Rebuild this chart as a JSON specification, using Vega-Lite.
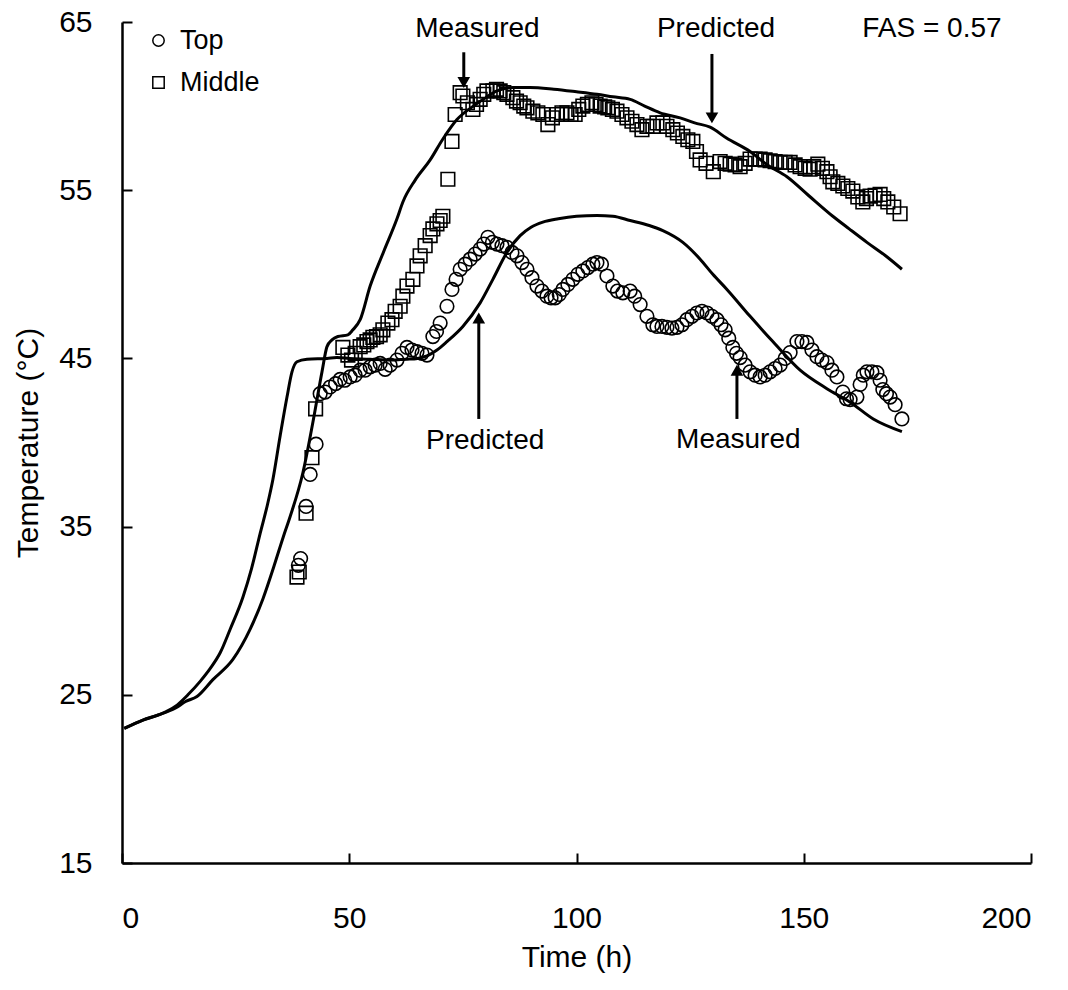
{
  "$schema": "https://vega.github.io/schema/vega-lite/v6.json",
  "width": 909,
  "height": 841,
  "autosize": {"type": "none"},
  "padding": {"left": 122, "top": 22, "right": 37, "bottom": 127},
  "background": "white",
  "config": {
    "font": "Liberation Sans",
    "view": {"stroke": null},
    "axis": {
      "grid": false,
      "domainColor": "black",
      "domainWidth": 2.5,
      "tickColor": "black",
      "tickWidth": 2,
      "tickSize": -10,
      "labelColor": "black",
      "titleColor": "black",
      "labelFont": "Liberation Sans",
      "titleFont": "Liberation Sans",
      "labelFontSize": 30,
      "titleFontSize": 30,
      "titleFontWeight": "normal"
    }
  },
  "datasets": {
    "pred": [
      {"t":0.5,"T":23.0,"c":"top"},{"t":4.6,"T":23.5,"c":"top"},{"t":8,"T":23.8,"c":"top"},{"t":11.7,"T":24.3,"c":"top"},{"t":14.5,"T":25.0,"c":"top"},{"t":17.2,"T":25.8,"c":"top"},{"t":19.5,"T":26.6,"c":"top"},{"t":21.6,"T":27.5,"c":"top"},{"t":23.8,"T":28.9,"c":"top"},{"t":26.6,"T":30.8,"c":"top"},{"t":28.5,"T":32.5,"c":"top"},{"t":30.4,"T":34.6,"c":"top"},{"t":32,"T":36.3,"c":"top"},{"t":33.2,"T":37.8,"c":"top"},{"t":34.8,"T":40.4,"c":"top"},{"t":36.3,"T":42.7,"c":"top"},{"t":37.4,"T":44.2,"c":"top"},{"t":38.5,"T":44.8,"c":"top"},{"t":40.7,"T":44.95,"c":"top"},{"t":45.1,"T":45.0,"c":"top"},{"t":47.3,"T":45.05,"c":"top"},{"t":50,"T":45.0,"c":"top"},{"t":54.6,"T":44.95,"c":"top"},{"t":58,"T":44.9,"c":"top"},{"t":62.7,"T":44.95,"c":"top"},{"t":65,"T":45.0,"c":"top"},{"t":67.1,"T":45.15,"c":"top"},{"t":69.3,"T":45.5,"c":"top"},{"t":71.5,"T":46.0,"c":"top"},{"t":75,"T":46.9,"c":"top"},{"t":78.8,"T":48.3,"c":"top"},{"t":81.6,"T":49.7,"c":"top"},{"t":84.7,"T":51.3,"c":"top"},{"t":87.6,"T":52.3,"c":"top"},{"t":90,"T":52.8,"c":"top"},{"t":92.6,"T":53.1,"c":"top"},{"t":96,"T":53.3,"c":"top"},{"t":100,"T":53.45,"c":"top"},{"t":104.5,"T":53.5,"c":"top"},{"t":108,"T":53.45,"c":"top"},{"t":111.8,"T":53.2,"c":"top"},{"t":116,"T":52.9,"c":"top"},{"t":119,"T":52.6,"c":"top"},{"t":123.4,"T":51.9,"c":"top"},{"t":127.2,"T":50.9,"c":"top"},{"t":130,"T":50.0,"c":"top"},{"t":133.1,"T":49.1,"c":"top"},{"t":138.2,"T":47.5,"c":"top"},{"t":143.2,"T":46.0,"c":"top"},{"t":149.2,"T":44.3,"c":"top"},{"t":155.1,"T":43.2,"c":"top"},{"t":160.2,"T":42.4,"c":"top"},{"t":165.3,"T":41.4,"c":"top"},{"t":171.6,"T":40.65,"c":"top"},
      {"t":0.5,"T":23.0,"c":"mid"},{"t":4.6,"T":23.5,"c":"mid"},{"t":8,"T":23.8,"c":"mid"},{"t":11.7,"T":24.2,"c":"mid"},{"t":14,"T":24.6,"c":"mid"},{"t":16.5,"T":24.9,"c":"mid"},{"t":20,"T":25.9,"c":"mid"},{"t":24.4,"T":27.1,"c":"mid"},{"t":28.2,"T":28.9,"c":"mid"},{"t":31,"T":30.7,"c":"mid"},{"t":33.5,"T":32.7,"c":"mid"},{"t":35.5,"T":34.4,"c":"mid"},{"t":37,"T":35.6,"c":"mid"},{"t":39.8,"T":38.2,"c":"mid"},{"t":42,"T":41.2,"c":"mid"},{"t":44,"T":44.2,"c":"mid"},{"t":45.1,"T":45.7,"c":"mid"},{"t":46.2,"T":46.1,"c":"mid"},{"t":47.5,"T":46.3,"c":"mid"},{"t":49.7,"T":46.4,"c":"mid"},{"t":50.8,"T":46.7,"c":"mid"},{"t":52.4,"T":47.3,"c":"mid"},{"t":54.6,"T":49.3,"c":"mid"},{"t":57.5,"T":51.3,"c":"mid"},{"t":60.5,"T":53.3,"c":"mid"},{"t":61.8,"T":54.3,"c":"mid"},{"t":64.5,"T":55.6,"c":"mid"},{"t":67.8,"T":56.8,"c":"mid"},{"t":70.5,"T":58.0,"c":"mid"},{"t":73.7,"T":59.2,"c":"mid"},{"t":77.3,"T":60.0,"c":"mid"},{"t":80,"T":60.5,"c":"mid"},{"t":82.5,"T":60.9,"c":"mid"},{"t":86,"T":61.1,"c":"mid"},{"t":89.8,"T":61.1,"c":"mid"},{"t":95,"T":61.0,"c":"mid"},{"t":100,"T":60.85,"c":"mid"},{"t":104.5,"T":60.7,"c":"mid"},{"t":108,"T":60.55,"c":"mid"},{"t":111.8,"T":60.4,"c":"mid"},{"t":115,"T":60.0,"c":"mid"},{"t":118.4,"T":59.6,"c":"mid"},{"t":122.8,"T":59.3,"c":"mid"},{"t":126,"T":59.0,"c":"mid"},{"t":129.4,"T":58.75,"c":"mid"},{"t":133,"T":58.1,"c":"mid"},{"t":138.2,"T":57.3,"c":"mid"},{"t":142,"T":56.5,"c":"mid"},{"t":146.3,"T":55.8,"c":"mid"},{"t":151,"T":54.7,"c":"mid"},{"t":156.4,"T":53.45,"c":"mid"},{"t":160,"T":52.7,"c":"mid"},{"t":163.9,"T":51.9,"c":"mid"},{"t":168,"T":51.1,"c":"mid"},{"t":171.6,"T":50.3,"c":"mid"}
    ],
    "meas": [
      {"t":38.8,"T":32.7,"s":"Top"},{"t":39.3,"T":33.1,"s":"Top"},{"t":40.5,"T":36.2,"s":"Top"},{"t":41.4,"T":38.1,"s":"Top"},{"t":42.7,"T":39.9,"s":"Top"},{"t":43.6,"T":42.9,"s":"Top"},{"t":44.7,"T":43.0,"s":"Top"},{"t":45.8,"T":43.3,"s":"Top"},{"t":47,"T":43.5,"s":"Top"},{"t":48,"T":43.75,"s":"Top"},{"t":49,"T":43.7,"s":"Top"},{"t":50.2,"T":43.9,"s":"Top"},{"t":51.3,"T":44.0,"s":"Top"},{"t":52.4,"T":44.3,"s":"Top"},{"t":53.5,"T":44.3,"s":"Top"},{"t":54.6,"T":44.5,"s":"Top"},{"t":55.7,"T":44.6,"s":"Top"},{"t":56.8,"T":44.7,"s":"Top"},{"t":57.9,"T":44.35,"s":"Top"},{"t":59,"T":44.6,"s":"Top"},{"t":60.5,"T":44.9,"s":"Top"},{"t":61.6,"T":45.3,"s":"Top"},{"t":62.7,"T":45.65,"s":"Top"},{"t":63.8,"T":45.5,"s":"Top"},{"t":64.9,"T":45.4,"s":"Top"},{"t":66,"T":45.3,"s":"Top"},{"t":67.1,"T":45.2,"s":"Top"},{"t":68.4,"T":46.3,"s":"Top"},{"t":69.2,"T":46.6,"s":"Top"},{"t":70,"T":47.1,"s":"Top"},{"t":71.5,"T":48.1,"s":"Top"},{"t":72.6,"T":49.1,"s":"Top"},{"t":73.5,"T":49.7,"s":"Top"},{"t":74.4,"T":50.3,"s":"Top"},{"t":75.5,"T":50.6,"s":"Top"},{"t":76.6,"T":50.9,"s":"Top"},{"t":77.7,"T":51.2,"s":"Top"},{"t":78.8,"T":51.5,"s":"Top"},{"t":79.6,"T":51.8,"s":"Top"},{"t":80.5,"T":52.2,"s":"Top"},{"t":81.5,"T":51.9,"s":"Top"},{"t":82.5,"T":51.8,"s":"Top"},{"t":83.6,"T":51.7,"s":"Top"},{"t":84.7,"T":51.6,"s":"Top"},{"t":85.8,"T":51.3,"s":"Top"},{"t":86.9,"T":51.1,"s":"Top"},{"t":88,"T":50.7,"s":"Top"},{"t":89.1,"T":50.3,"s":"Top"},{"t":90.2,"T":49.8,"s":"Top"},{"t":91.3,"T":49.3,"s":"Top"},{"t":92.4,"T":49.0,"s":"Top"},{"t":93.5,"T":48.7,"s":"Top"},{"t":94.4,"T":48.6,"s":"Top"},{"t":95.3,"T":48.6,"s":"Top"},{"t":96.2,"T":48.8,"s":"Top"},{"t":97,"T":49.1,"s":"Top"},{"t":98.1,"T":49.4,"s":"Top"},{"t":99.2,"T":49.7,"s":"Top"},{"t":100.3,"T":50.0,"s":"Top"},{"t":101.4,"T":50.2,"s":"Top"},{"t":102.5,"T":50.4,"s":"Top"},{"t":103.6,"T":50.6,"s":"Top"},{"t":104.5,"T":50.7,"s":"Top"},{"t":105.5,"T":50.6,"s":"Top"},{"t":106.7,"T":49.9,"s":"Top"},{"t":108,"T":49.3,"s":"Top"},{"t":109,"T":49.0,"s":"Top"},{"t":110.2,"T":48.9,"s":"Top"},{"t":111.8,"T":49.0,"s":"Top"},{"t":112.8,"T":48.7,"s":"Top"},{"t":114,"T":48.2,"s":"Top"},{"t":115.5,"T":47.5,"s":"Top"},{"t":116.8,"T":47.0,"s":"Top"},{"t":117.7,"T":46.9,"s":"Top"},{"t":118.8,"T":46.9,"s":"Top"},{"t":119.9,"T":46.85,"s":"Top"},{"t":121,"T":46.8,"s":"Top"},{"t":122.1,"T":46.85,"s":"Top"},{"t":123.2,"T":47.0,"s":"Top"},{"t":124.3,"T":47.3,"s":"Top"},{"t":125.4,"T":47.5,"s":"Top"},{"t":126.5,"T":47.7,"s":"Top"},{"t":127.6,"T":47.8,"s":"Top"},{"t":128.7,"T":47.7,"s":"Top"},{"t":129.8,"T":47.5,"s":"Top"},{"t":130.9,"T":47.3,"s":"Top"},{"t":131.8,"T":47.0,"s":"Top"},{"t":132.7,"T":46.7,"s":"Top"},{"t":133.5,"T":46.2,"s":"Top"},{"t":134.4,"T":45.65,"s":"Top"},{"t":135.2,"T":45.3,"s":"Top"},{"t":136,"T":45.05,"s":"Top"},{"t":137.1,"T":44.6,"s":"Top"},{"t":138.2,"T":44.2,"s":"Top"},{"t":139.3,"T":44.0,"s":"Top"},{"t":140.4,"T":43.9,"s":"Top"},{"t":141.5,"T":44.0,"s":"Top"},{"t":142.6,"T":44.2,"s":"Top"},{"t":143.7,"T":44.4,"s":"Top"},{"t":144.8,"T":44.6,"s":"Top"},{"t":145.9,"T":45.0,"s":"Top"},{"t":147,"T":45.35,"s":"Top"},{"t":148.5,"T":46.0,"s":"Top"},{"t":149.6,"T":46.0,"s":"Top"},{"t":150.7,"T":45.95,"s":"Top"},{"t":151.8,"T":45.5,"s":"Top"},{"t":152.9,"T":45.1,"s":"Top"},{"t":154,"T":44.9,"s":"Top"},{"t":155.1,"T":44.75,"s":"Top"},{"t":156.2,"T":44.3,"s":"Top"},{"t":157.3,"T":43.9,"s":"Top"},{"t":158.6,"T":43.0,"s":"Top"},{"t":159.4,"T":42.6,"s":"Top"},{"t":160.2,"T":42.55,"s":"Top"},{"t":161.7,"T":42.7,"s":"Top"},{"t":162.4,"T":43.45,"s":"Top"},{"t":163.1,"T":44.0,"s":"Top"},{"t":163.9,"T":44.2,"s":"Top"},{"t":165,"T":44.2,"s":"Top"},{"t":166.1,"T":44.15,"s":"Top"},{"t":166.8,"T":43.7,"s":"Top"},{"t":167.4,"T":43.15,"s":"Top"},{"t":168.2,"T":42.9,"s":"Top"},{"t":169,"T":42.7,"s":"Top"},{"t":170.1,"T":42.25,"s":"Top"},{"t":171.6,"T":41.4,"s":"Top"},
      {"t":38.5,"T":32.0,"s":"Middle"},{"t":39.0,"T":32.3,"s":"Middle"},{"t":40.5,"T":35.8,"s":"Middle"},{"t":41.8,"T":39.1,"s":"Middle"},{"t":42.6,"T":42.0,"s":"Middle"},{"t":48.6,"T":45.65,"s":"Middle"},{"t":49.7,"T":45.2,"s":"Middle"},{"t":50.5,"T":44.9,"s":"Middle"},{"t":51.3,"T":45.3,"s":"Middle"},{"t":52.4,"T":45.7,"s":"Middle"},{"t":53.2,"T":45.8,"s":"Middle"},{"t":53.9,"T":46.0,"s":"Middle"},{"t":54.6,"T":46.1,"s":"Middle"},{"t":55.2,"T":46.25,"s":"Middle"},{"t":56.0,"T":46.3,"s":"Middle"},{"t":56.8,"T":46.4,"s":"Middle"},{"t":57.4,"T":46.7,"s":"Middle"},{"t":58.5,"T":47.1,"s":"Middle"},{"t":59.4,"T":47.3,"s":"Middle"},{"t":60.1,"T":47.8,"s":"Middle"},{"t":61.2,"T":48.1,"s":"Middle"},{"t":61.8,"T":48.7,"s":"Middle"},{"t":62.7,"T":49.3,"s":"Middle"},{"t":64,"T":49.7,"s":"Middle"},{"t":64.9,"T":50.5,"s":"Middle"},{"t":65.6,"T":51.1,"s":"Middle"},{"t":66.7,"T":51.7,"s":"Middle"},{"t":67.8,"T":52.3,"s":"Middle"},{"t":68.4,"T":52.7,"s":"Middle"},{"t":69.3,"T":53.0,"s":"Middle"},{"t":70,"T":53.2,"s":"Middle"},{"t":70.6,"T":53.45,"s":"Middle"},{"t":71.7,"T":55.65,"s":"Middle"},{"t":72.6,"T":57.9,"s":"Middle"},{"t":73.3,"T":59.5,"s":"Middle"},{"t":74.4,"T":60.8,"s":"Middle"},{"t":75,"T":60.6,"s":"Middle"},{"t":76,"T":60.2,"s":"Middle"},{"t":77.2,"T":59.8,"s":"Middle"},{"t":78,"T":60.1,"s":"Middle"},{"t":78.8,"T":60.4,"s":"Middle"},{"t":79.6,"T":60.7,"s":"Middle"},{"t":80.3,"T":60.9,"s":"Middle"},{"t":81.6,"T":60.9,"s":"Middle"},{"t":82.4,"T":61.0,"s":"Middle"},{"t":83.2,"T":60.9,"s":"Middle"},{"t":84,"T":60.8,"s":"Middle"},{"t":84.7,"T":60.7,"s":"Middle"},{"t":86,"T":60.5,"s":"Middle"},{"t":86.8,"T":60.3,"s":"Middle"},{"t":87.6,"T":60.2,"s":"Middle"},{"t":88.4,"T":60.0,"s":"Middle"},{"t":89.1,"T":59.9,"s":"Middle"},{"t":90.4,"T":59.7,"s":"Middle"},{"t":91.5,"T":59.6,"s":"Middle"},{"t":92.6,"T":59.5,"s":"Middle"},{"t":93.7,"T":58.9,"s":"Middle"},{"t":94.7,"T":59.3,"s":"Middle"},{"t":95.7,"T":59.5,"s":"Middle"},{"t":96.8,"T":59.6,"s":"Middle"},{"t":97.9,"T":59.6,"s":"Middle"},{"t":98.8,"T":59.5,"s":"Middle"},{"t":99.7,"T":59.5,"s":"Middle"},{"t":100.5,"T":59.8,"s":"Middle"},{"t":101.4,"T":60.0,"s":"Middle"},{"t":102.4,"T":60.1,"s":"Middle"},{"t":103.4,"T":60.2,"s":"Middle"},{"t":104.3,"T":60.1,"s":"Middle"},{"t":105.2,"T":60.0,"s":"Middle"},{"t":106.2,"T":59.95,"s":"Middle"},{"t":106.9,"T":59.9,"s":"Middle"},{"t":107.9,"T":59.8,"s":"Middle"},{"t":108.9,"T":59.7,"s":"Middle"},{"t":110,"T":59.5,"s":"Middle"},{"t":111.1,"T":59.3,"s":"Middle"},{"t":112.2,"T":59.1,"s":"Middle"},{"t":113.3,"T":58.9,"s":"Middle"},{"t":114.4,"T":58.6,"s":"Middle"},{"t":115.5,"T":58.8,"s":"Middle"},{"t":116.8,"T":58.8,"s":"Middle"},{"t":117.7,"T":59.0,"s":"Middle"},{"t":119,"T":59.0,"s":"Middle"},{"t":119.9,"T":58.8,"s":"Middle"},{"t":121.2,"T":58.6,"s":"Middle"},{"t":122.2,"T":58.4,"s":"Middle"},{"t":123.4,"T":58.2,"s":"Middle"},{"t":124.5,"T":58.0,"s":"Middle"},{"t":125.6,"T":57.9,"s":"Middle"},{"t":126.4,"T":57.3,"s":"Middle"},{"t":127.2,"T":56.8,"s":"Middle"},{"t":128.5,"T":56.6,"s":"Middle"},{"t":130.1,"T":56.1,"s":"Middle"},{"t":131.6,"T":56.7,"s":"Middle"},{"t":132.7,"T":56.6,"s":"Middle"},{"t":133.8,"T":56.55,"s":"Middle"},{"t":134.9,"T":56.5,"s":"Middle"},{"t":136,"T":56.4,"s":"Middle"},{"t":137.1,"T":56.6,"s":"Middle"},{"t":138.2,"T":56.85,"s":"Middle"},{"t":139.3,"T":56.85,"s":"Middle"},{"t":140.4,"T":56.85,"s":"Middle"},{"t":141.5,"T":56.8,"s":"Middle"},{"t":142.6,"T":56.75,"s":"Middle"},{"t":143.7,"T":56.7,"s":"Middle"},{"t":144.8,"T":56.65,"s":"Middle"},{"t":145.9,"T":56.65,"s":"Middle"},{"t":147,"T":56.65,"s":"Middle"},{"t":148.1,"T":56.5,"s":"Middle"},{"t":149.2,"T":56.4,"s":"Middle"},{"t":150.3,"T":56.3,"s":"Middle"},{"t":151.4,"T":56.25,"s":"Middle"},{"t":152.2,"T":56.4,"s":"Middle"},{"t":153.1,"T":56.55,"s":"Middle"},{"t":154.1,"T":56.3,"s":"Middle"},{"t":155.1,"T":56.1,"s":"Middle"},{"t":155.8,"T":55.8,"s":"Middle"},{"t":156.4,"T":55.5,"s":"Middle"},{"t":157.5,"T":55.4,"s":"Middle"},{"t":158.6,"T":55.25,"s":"Middle"},{"t":159.7,"T":55.1,"s":"Middle"},{"t":160.8,"T":54.95,"s":"Middle"},{"t":161.9,"T":54.6,"s":"Middle"},{"t":163,"T":54.3,"s":"Middle"},{"t":163.8,"T":54.5,"s":"Middle"},{"t":164.6,"T":54.65,"s":"Middle"},{"t":165.7,"T":54.7,"s":"Middle"},{"t":166.8,"T":54.75,"s":"Middle"},{"t":167.6,"T":54.5,"s":"Middle"},{"t":168.5,"T":54.3,"s":"Middle"},{"t":169.8,"T":54.0,"s":"Middle"},{"t":171.2,"T":53.6,"s":"Middle"}
    ],
    "arrows": [
      {"t":75.2,"y1":63.2,"y2":61.4,"dir":"down"},
      {"t":129.8,"y1":63.1,"y2":59.3,"dir":"down"},
      {"t":78.5,"y1":41.4,"y2":47.4,"dir":"up"},
      {"t":135.3,"y1":41.4,"y2":44.3,"dir":"up"}
    ],
    "labels": [
      {"t":78.2,"T":64.1,"text":"Measured"},
      {"t":130.7,"T":64.1,"text":"Predicted"},
      {"t":178.2,"T":64.1,"text":"FAS = 0.57"},
      {"t":79.9,"T":39.6,"text":"Predicted"},
      {"t":135.6,"T":39.7,"text":"Measured"}
    ]
  },
  "layer": [
    {
      "data": {"name": "pred"},
      "mark": {"type": "line", "color": "black", "strokeWidth": 3, "interpolate": "monotone"},
      "encoding": {
        "x": {"field": "t", "type": "quantitative", "scale": {"domain": [0, 200], "nice": false},
              "axis": {"values": [0, 50, 100, 150, 200], "title": "Time (h)", "labelPadding": 50, "titlePadding": 9}},
        "y": {"field": "T", "type": "quantitative", "scale": {"domain": [15, 65], "nice": false, "zero": false},
              "axis": {"values": [15, 25, 35, 45, 55, 65], "title": "Temperature (\u00b0C)", "labelPadding": 40, "titlePadding": 15}},
        "detail": {"field": "c"}
      }
    },
    {
      "data": {"name": "meas"},
      "mark": {"type": "point", "filled": false, "stroke": "black", "strokeWidth": 1.6, "size": 185, "opacity": 1},
      "encoding": {
        "x": {"field": "t", "type": "quantitative"},
        "y": {"field": "T", "type": "quantitative"},
        "shape": {"field": "s", "type": "nominal",
                  "scale": {"domain": ["Top", "Middle"], "range": ["circle", "square"]},
                  "legend": {"title": null, "orient": "none", "legendX": 23, "legendY": 5, "padding": 0,
                             "labelFontSize": 27, "labelFont": "Liberation Sans", "labelColor": "black",
                             "symbolSize": 130, "symbolStrokeColor": "black", "symbolStrokeWidth": 1.5,
                             "symbolFillColor": "white", "labelOffset": 8, "rowPadding": 14}}
      }
    },
    {
      "data": {"name": "arrows"},
      "mark": {"type": "rule", "color": "black", "strokeWidth": 3},
      "encoding": {
        "x": {"field": "t", "type": "quantitative"},
        "y": {"field": "y1", "type": "quantitative"},
        "y2": {"field": "y2"}
      }
    },
    {
      "data": {"name": "arrows"},
      "transform": [{"filter": "datum.dir == 'down'"}],
      "mark": {"type": "point", "shape": "triangle-down", "filled": true, "color": "black", "size": 160, "opacity": 1},
      "encoding": {
        "x": {"field": "t", "type": "quantitative"},
        "y": {"field": "y2", "type": "quantitative"}
      }
    },
    {
      "data": {"name": "arrows"},
      "transform": [{"filter": "datum.dir == 'up'"}],
      "mark": {"type": "point", "shape": "triangle-up", "filled": true, "color": "black", "size": 160, "opacity": 1},
      "encoding": {
        "x": {"field": "t", "type": "quantitative"},
        "y": {"field": "y2", "type": "quantitative"}
      }
    },
    {
      "data": {"name": "labels"},
      "mark": {"type": "text", "font": "Liberation Sans", "fontSize": 28, "color": "black", "align": "center", "baseline": "alphabetic"},
      "encoding": {
        "x": {"field": "t", "type": "quantitative"},
        "y": {"field": "T", "type": "quantitative"},
        "text": {"field": "text"}
      }
    }
  ]
}
